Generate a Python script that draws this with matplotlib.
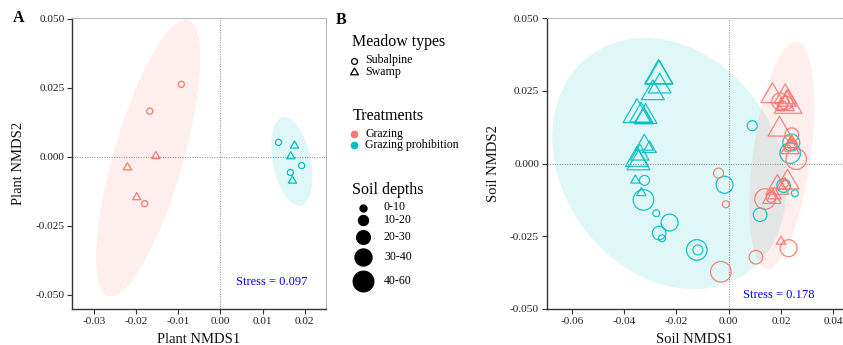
import numpy as np
import matplotlib
matplotlib.use("Agg")
import matplotlib.pyplot as plt
from matplotlib.path import Path

plt.rcParams['font.family'] = ['Liberation Serif', 'DejaVu Serif']
plt.rcParams['axes.unicode_minus'] = False

# colours of the two treatments
col_graz = "#F8766D"
col_proh = "#00BFC4"

# ---- panel A: plant NMDS ----
plant_graz_sub_x = [-0.0093, -0.0168, -0.0180]
plant_graz_sub_y = [0.0262, 0.0165, -0.0170]
plant_graz_swa_x = [-0.01535, -0.0221, -0.0199]
plant_graz_swa_y = [0.0002, -0.0039, -0.0147]
plant_proh_sub_x = [0.0138, 0.0193, 0.0166]
plant_proh_sub_y = [0.0052, -0.0032, -0.0057]
plant_proh_swa_x = [0.0176, 0.0167, 0.0171]
plant_proh_swa_y = [0.0040, 0.0001, -0.0087]
plant_stress = 0.097

# ---- panel B: soil NMDS (depth class 1..5) ----
soil_proh_swa_x = [-0.0268, -0.0266, -0.0264, -0.0290, -0.0351, -0.0335, -0.0318, -0.0325,
                   -0.0323, -0.0303, -0.0351, -0.0345, -0.0340, -0.0357, -0.0334]
soil_proh_swa_y = [0.0302, 0.0300, 0.0265, 0.0242, 0.0168, 0.0165, 0.0160, 0.0155,
                   0.0064, 0.0051, 0.0013, 0.0001, 0.0030, -0.0058, -0.0101]
soil_proh_swa_d = [5, 5, 4, 4, 5, 4, 4, 3, 3, 2, 4, 4, 3, 1, 1]

soil_proh_sub_x = [-0.0322, -0.0326, -0.0277, -0.0226, -0.0266, -0.0255, -0.0122, -0.0118,
                   -0.0016, 0.0090, 0.0120, 0.0239, 0.0235, 0.0210, 0.0253]
soil_proh_sub_y = [-0.0058, -0.0125, -0.0171, -0.0203, -0.0239, -0.0257, -0.0297, -0.0297,
                   -0.0073, 0.0130, -0.0176, 0.0072, 0.0036, -0.0076, -0.0102]
soil_proh_sub_d = [2, 5, 1, 4, 3, 1, 5, 2, 4, 2, 3, 4, 5, 3, 1]

soil_graz_sub_x = [-0.0039, -0.0011, -0.0030, 0.0104, 0.0139, 0.0162, 0.0229, 0.0241,
                   0.0258, 0.0197, 0.0219, 0.0243, 0.0215, 0.0205, 0.0225]
soil_graz_sub_y = [-0.0033, -0.0140, -0.0372, -0.0322, -0.0122, -0.0116, -0.0291, 0.0099,
                   0.0015, 0.0213, 0.0208, 0.0065, -0.0070, 0.0198, 0.0052]
soil_graz_sub_d = [2, 1, 5, 3, 5, 2, 4, 3, 5, 4, 3, 2, 1, 2, 1]

soil_graz_swa_x = [0.0167, 0.0216, 0.0227, 0.0215, 0.0222, 0.0194, 0.0238, 0.0242,
                   0.0235, 0.0225, 0.0186, 0.0165, 0.0175, 0.0215, 0.0200]
soil_graz_swa_y = [0.0232, 0.0228, 0.0200, 0.0200, 0.0215, 0.0117, 0.0068, 0.0078,
                   0.0052, -0.0065, -0.0083, -0.0119, -0.0108, -0.0075, -0.0268]
soil_graz_swa_d = [4, 4, 5, 3, 3, 4, 2, 1, 3, 4, 4, 3, 2, 2, 1]
soil_stress = 0.178

depth_labels = ["0-10", "10-20", "20-30", "30-40", "40-60"]
depth_ms = [5.0, 7.2, 9.8, 12.2, 14.8]   # circle diameter in points per depth class

# triangle with centroid at the marker centre (like R's pch 2)
tri = Path([(0, 1), (-0.866, -0.5), (0.866, -0.5), (0, 1)],
           [Path.MOVETO, Path.LINETO, Path.LINETO, Path.CLOSEPOLY])
TRI_K = 1.555  # triangle size relative to circle


def cov_trob(xy, nu=5, maxit=25, tol=0.01):
    n, p = xy.shape
    loc = xy.mean(axis=0)
    w = np.ones(n)
    for _ in range(maxit):
        w0 = w
        X = xy - loc
        _, d, vt = np.linalg.svd(np.sqrt(w / w.sum())[:, None] * X, full_matrices=False)
        wX = X @ vt.T @ np.diag(1 / d)
        Q = (wX ** 2).sum(axis=1)
        w = (nu + p) / (nu + Q)
        loc = (w[:, None] * xy).sum(axis=0) / w.sum()
        if np.all(np.abs(w - w0) < tol):
            break
    sx = np.sqrt(w)[:, None] * X
    return loc, sx.T @ sx / n


def ellipse(x, y, level=0.95, seg=51):
    xy = np.column_stack([x, y])
    loc, cov = cov_trob(xy)
    dfd = len(xy) - 1
    f = dfd / 2 * ((1 - level) ** (-2 / dfd) - 1)
    r = np.sqrt(2 * f)
    t = np.linspace(0, 2 * np.pi, seg)
    circ = np.column_stack([np.cos(t), np.sin(t)])
    e = loc + r * circ @ np.linalg.cholesky(cov).T
    return e[:, 0], e[:, 1]


def style_axes(ax):
    for s in ["left", "bottom"]:
        ax.spines[s].set_color("#333333")
        ax.spines[s].set_linewidth(1.0)
    for s in ["top", "right"]:
        ax.spines[s].set_color("#BBBBBB")
        ax.spines[s].set_linewidth(0.8)
    ax.tick_params(direction="out", length=3.5, width=0.8, pad=2,
                   labelsize=8.2, colors="#333333", labelcolor="#222222")
    ax.axhline(0, color="#9a9a9a", lw=0.8, ls=(0, (1, 1.2)), zorder=1)
    ax.axvline(0, color="#9a9a9a", lw=0.8, ls=(0, (1, 1.2)), zorder=1)


fig = plt.figure(figsize=(8.43, 3.45), dpi=100)

# ---------- panel A ----------
axA = fig.add_axes([72.3 / 843, 36 / 345, 253.4 / 843, 291 / 345])
style_axes(axA)
for xs, ys, c in [(plant_graz_sub_x + plant_graz_swa_x, plant_graz_sub_y + plant_graz_swa_y, col_graz),
                  (plant_proh_sub_x + plant_proh_swa_x, plant_proh_sub_y + plant_proh_swa_y, col_proh)]:
    ex, ey = ellipse(xs, ys)
    axA.fill(ex, ey, color=c, alpha=0.12, lw=0, zorder=0)

ms_a = 4.4
for xs, ys, c in [(plant_graz_sub_x, plant_graz_sub_y, col_graz),
                  (plant_proh_sub_x, plant_proh_sub_y, col_proh)]:
    axA.scatter(xs, ys, s=ms_a ** 2, marker="o", facecolors="none", edgecolors=c, linewidths=0.9, zorder=3)
for xs, ys, c in [(plant_graz_swa_x, plant_graz_swa_y, col_graz),
                  (plant_proh_swa_x, plant_proh_swa_y, col_proh)]:
    axA.scatter(xs, ys, s=(ms_a * TRI_K) ** 2, marker=tri, facecolors="none", edgecolors=c, linewidths=0.9, zorder=3)

axA.set_xlim(-0.0352, 0.025)
axA.set_ylim(-0.0551, 0.0502)
axA.set_xticks([-0.03, -0.02, -0.01, 0.0, 0.01, 0.02])
axA.set_xticklabels(["-0.03", "-0.02", "-0.01", "0.00", "0.01", "0.02"])
axA.set_yticks([-0.05, -0.025, 0.0, 0.025, 0.05])
axA.set_yticklabels(["-0.050", "-0.025", "0.000", "0.025", "0.050"])
axA.set_xlabel("Plant NMDS1", fontsize=10.5, color="#111111")
axA.set_ylabel("Plant NMDS2", fontsize=10.5, color="#111111")
axA.xaxis.set_label_coords(0.5, -0.082)
axA.yaxis.set_label_coords(-0.187, 0.5)
axA.text(0.788, 0.093, "Stress = %.3f" % plant_stress, transform=axA.transAxes,
         color="blue", fontsize=9, ha="center", va="center")

# ---------- panel B ----------
axB = fig.add_axes([546.7 / 843, 36 / 345, 296.3 / 843, 291 / 345])
style_axes(axB)
ex, ey = ellipse(soil_proh_swa_x + soil_proh_sub_x, soil_proh_swa_y + soil_proh_sub_y)
axB.fill(ex, ey, color=col_proh, alpha=0.12, lw=0, zorder=0)
ex, ey = ellipse(soil_graz_sub_x + soil_graz_swa_x, soil_graz_sub_y + soil_graz_swa_y)
axB.fill(ex, ey, color=col_graz, alpha=0.12, lw=0, zorder=0)

groups = [
    (soil_proh_swa_x, soil_proh_swa_y, soil_proh_swa_d, col_proh, tri, TRI_K),
    (soil_proh_sub_x, soil_proh_sub_y, soil_proh_sub_d, col_proh, "o", 1.0),
    (soil_graz_sub_x, soil_graz_sub_y, soil_graz_sub_d, col_graz, "o", 1.0),
    (soil_graz_swa_x, soil_graz_swa_y, soil_graz_swa_d, col_graz, tri, TRI_K),
]
for xs, ys, ds, c, mk, k in groups:
    sizes = [(depth_ms[d - 1] * k) ** 2 for d in ds]
    axB.scatter(xs, ys, s=sizes, marker=mk, facecolors="none", edgecolors=c,
                linewidths=0.9, alpha=0.9, zorder=3)

axB.set_xlim(-0.0696, 0.0437)
axB.set_ylim(-0.050, 0.050)
axB.set_xticks([-0.06, -0.04, -0.02, 0.0, 0.02, 0.04])
axB.set_xticklabels(["-0.06", "-0.04", "-0.02", "0.00", "0.02", "0.04"])
axB.set_yticks([-0.05, -0.025, 0.0, 0.025, 0.05])
axB.set_yticklabels(["-0.050", "-0.025", "0.000", "0.025", "0.050"])
axB.set_xlabel("Soil NMDS1", fontsize=10.5, color="#111111")
axB.set_ylabel("Soil NMDS2", fontsize=10.5, color="#111111")
axB.xaxis.set_label_coords(0.5, -0.082)
axB.yaxis.set_label_coords(-0.158, 0.5)
axB.text(0.784, 0.048, "Stress = %.3f" % soil_stress, transform=axB.transAxes,
         color="blue", fontsize=9, ha="center", va="center")

# ---------- panel letters and legends (pixel layout) ----------
lg = fig.add_axes([0, 0, 1, 1], zorder=-1)
lg.set_xlim(0, 843)
lg.set_ylim(345, 0)
lg.axis("off")
lg.text(13, 18.5, "A", fontsize=11.5, fontweight="bold", va="center", ha="left")
lg.text(336, 19.5, "B", fontsize=11.5, fontweight="bold", va="center", ha="left")

tx_title = 352.5
lg.text(tx_title, 42, "Meadow types", fontsize=11.5, va="center", ha="left")
lg.plot([354.3], [60.5], marker="o", ms=4.2, mfc="none", mec="black", mew=0.9)
lg.plot([354.3], [71.5], marker=tri, ms=4.2 * TRI_K, mfc="none", mec="black", mew=0.9)
lg.text(365, 60.5, "Subalpine", fontsize=8.6, va="center", ha="left")
lg.text(365, 71.5, "Swamp", fontsize=8.6, va="center", ha="left")

lg.text(tx_title, 116, "Treatments", fontsize=11.5, va="center", ha="left")
lg.plot([354.3], [134], marker="o", ms=4.5, mfc=col_graz, mec=col_graz)
lg.plot([354.3], [145], marker="o", ms=4.5, mfc=col_proh, mec=col_proh)
lg.text(365, 134, "Grazing", fontsize=8.6, va="center", ha="left")
lg.text(365, 145, "Grazing prohibition", fontsize=8.6, va="center", ha="left")

lg.text(tx_title, 190, "Soil depths", fontsize=11.5, va="center", ha="left")
key_y = [207.5, 220, 236.7, 257.3, 281]
for yk, lab, ms in zip(key_y, depth_labels, depth_ms):
    lg.plot([363.3], [yk], marker="o", ms=ms, mfc="black", mec="black")
    lg.text(384, yk, lab, fontsize=8.6, va="center", ha="left")

fig.savefig("out.png", dpi=100)
